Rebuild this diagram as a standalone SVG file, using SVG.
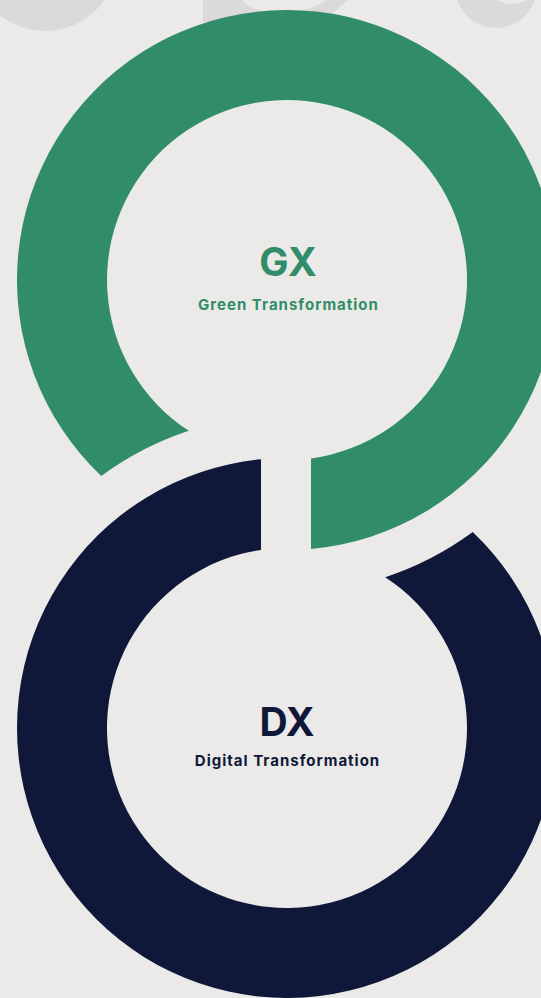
<svg xmlns="http://www.w3.org/2000/svg" width="541" height="998" viewBox="0 0 541 998">
  <style>
    .bg { fill: #ebeae8; }
    .ghost { fill: #dbd9d9; }
    .gx { fill: #318c69; }
    .dx { fill: #0f1838; }
    .title { font-family: Inter, "Noto Sans", sans-serif; font-weight: 700; text-anchor: middle; }
    .big { font-size: 39px; }
    .sub { font-size: 15px; letter-spacing: 1px; }
  </style>

  <rect class="bg" x="0" y="0" width="541" height="998"/>

  <!-- faint decorative shapes along the top edge -->
  <g id="backdrop">
    <circle class="ghost" cx="45" cy="-42" r="73"/>
    <path class="ghost" d="M203,0 L348,0 L322,22 L203,22 Z"/>
    <path class="bg" d="M242,0 C250,10 268,14 285,13 C303,12 318,6 327,0 Z"/>
    <path class="ghost" fill-rule="evenodd" d="M455,-13 A41,41 0 1 0 537,-13 A41,41 0 1 0 455,-13 Z M482,-26 A30,30 0 1 1 542,-26 A30,30 0 1 1 482,-26 Z"/>
  </g>

  <!-- ring segments: each ends where the other ring passes -->
  <g id="rings">
    <g id="gx-ring">
      <path class="gx" d="M311,548.93 A270,270 0 1 0 101.3,476.0 A313,313 0 0 1 188.75,430.8 A180,180 0 1 1 311,458.39 Z"/>
    </g>
    <g id="dx-ring">
      <path class="dx" d="M261,459.26 A270,270 0 1 0 472.7,532.0 A313,313 0 0 1 385.25,577.2 A180,180 0 1 1 261,549.89 Z"/>
    </g>
  </g>

  <g id="gx-label">
    <text class="title big gx" x="288" y="276">GX</text>
    <text class="title sub gx" x="288.5" y="310">Green Transformation</text>
  </g>

  <g id="dx-label">
    <text class="title big dx" x="287" y="736">DX</text>
    <text class="title sub dx" x="287.5" y="766">Digital Transformation</text>
  </g>
</svg>
